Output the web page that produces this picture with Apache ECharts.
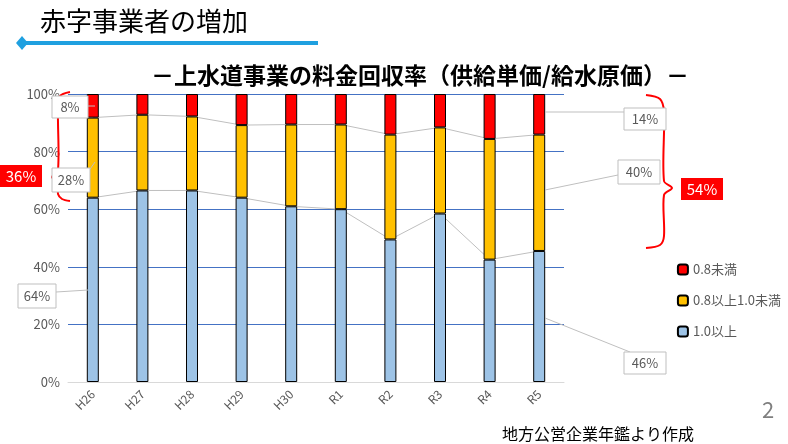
<!DOCTYPE html>
<html>
<head>
<meta charset="utf-8">
<script src="https://cdn.jsdelivr.net/npm/echarts@6/dist/echarts.min.js"></script>
<style>html,body{margin:0;padding:0;background:#fff}#c{width:788px;height:444px}</style>
</head>
<body>
<div id="c"></div>
<script>
"use strict";

var categories = ["H26", "H27", "H28", "H29", "H30", "R1", "R2", "R3", "R4", "R5"];
var over10 = [64, 66.5, 66.5, 64, 61, 60, 49.5, 58.5, 42.5, 45.5];
var mid = [27.8, 26.3, 25.7, 25.2, 28.4, 29.4, 36.4, 29.9, 41.9, 40.4];
var under08 = [8.2, 7.2, 7.8, 10.8, 10.6, 10.6, 14.1, 11.6, 15.6, 14.1];
var yTicks = [0, 20, 40, 60, 80, 100];

var top1 = over10.slice();
var top2 = over10.map(function (v, i) { return v + mid[i]; });

var chart = echarts.init(document.getElementById("c"));
var font = "'Noto Sans CJK JP', sans-serif";

function callout(x, y, w, h, text) {
  return [
    { type: "rect", shape: { x: x, y: y, width: w, height: h },
      style: { fill: "#fff", stroke: "#bfbfbf", lineWidth: 1 }, z: 100 },
    { type: "text", x: x + w / 2, y: y + h / 2, z: 101,
      style: { text: text, fill: "#595959", font: "13px " + font, textAlign: "center", textVerticalAlign: "middle" } }
  ];
}
function redBox(x, y, text) {
  return [
    { type: "rect", shape: { x: x, y: y, width: 42, height: 22 }, style: { fill: "#ff0000" }, z: 100 },
    { type: "text", x: x + 21, y: y + 11, z: 101,
      style: { text: text, fill: "#fff", font: "15px " + font, textAlign: "center", textVerticalAlign: "middle" } }
  ];
}
function link(x1, y1, x2, y2) {
  return { type: "line", z: 99, shape: { x1: x1, y1: y1, x2: x2, y2: y2 }, style: { stroke: "#bfbfbf", lineWidth: 1 } };
}

var graphics = [
  { type: "text", x: 40, y: 8, style: { text: "赤字事業者の増加", fill: "#000", font: "26px " + font } },
  { type: "line", shape: { x1: 22, y1: 43, x2: 318, y2: 43 }, style: { stroke: "#1fa0e0", lineWidth: 4 } },
  { type: "polygon", shape: { points: [[22, 36], [28, 43], [22, 50], [16, 43]] }, style: { fill: "#1fa0e0" } },
  { type: "text", x: 420, y: 75, style: { text: "－上水道事業の料金回収率（供給単価/給水原価）－", fill: "#000",
      font: "bold 23px " + font, textAlign: "center", textVerticalAlign: "middle" } },
  { type: "text", x: 598, y: 434, style: { text: "地方公営企業年鑑より作成", fill: "#000", font: "16px " + font, textAlign: "center", textVerticalAlign: "middle" } },
  { type: "text", x: 768, y: 410, style: { text: "2", fill: "#7f7f7f", font: "22px " + font, textAlign: "center", textVerticalAlign: "middle" } },
  { type: "polyline", z: 99, shape: { smooth: 0.3, points: [[70, 92], [60, 96], [58, 110], [58, 170], [52, 177], [58, 184], [58, 194], [62, 199], [70, 201]] },
    style: { fill: "none", stroke: "#ff0000", lineWidth: 2 } },
  { type: "polyline", z: 99, shape: { smooth: 0.3, points: [[646, 95], [660, 99], [664, 112], [664, 181], [672, 188], [664, 195], [664, 236], [660, 245], [646, 248]] },
    style: { fill: "none", stroke: "#ff0000", lineWidth: 2 } },
  link(88, 106, 95, 106),
  link(88, 172, 95, 162),
  link(56, 292, 88, 290),
  link(624, 112, 545, 112),
  link(618, 175, 545, 190),
  link(630, 352, 545, 318)
]
  .concat(callout(52, 96, 36, 22, "8%"))
  .concat(callout(52, 168, 38, 24, "28%"))
  .concat(callout(18, 284, 38, 24, "64%"))
  .concat(callout(624, 108, 42, 22, "14%"))
  .concat(callout(618, 160, 42, 24, "40%"))
  .concat(callout(624, 352, 42, 22, "46%"))
  .concat(redBox(0, 165, "36%"))
  .concat(redBox(681, 178, "54%"));

chart.setOption({
  animation: false,
  textStyle: { fontFamily: font },
  grid: { left: 68, right: 224, top: 94, bottom: 62 },
  legend: {
    orient: "vertical", right: 2, top: 258, itemGap: 18, itemWidth: 10, itemHeight: 10,
    textStyle: { color: "#595959", fontSize: 13 },
    data: ["0.8未満", "0.8以上1.0未満", "1.0以上"]
  },
  xAxis: {
    type: "category", data: categories,
    axisLine: { lineStyle: { color: "#d9d9d9" } }, axisTick: { show: false },
    axisLabel: { color: "#595959", fontSize: 12, rotate: 45, margin: 10 }
  },
  yAxis: {
    type: "value", min: 0, max: 100, interval: 20,
    axisLabel: { color: "#595959", fontSize: 13, formatter: "{value}%" },
    splitLine: { lineStyle: { color: "#4472c4", width: 1 } },
    axisLine: { show: false }, axisTick: { show: false }
  },
  series: [
    { name: "1.0以上", type: "bar", stack: "a", data: over10, barWidth: 12,
      itemStyle: { color: "#9dc3e6", borderColor: "#000", borderWidth: 1 } },
    { name: "0.8以上1.0未満", type: "bar", stack: "a", data: mid,
      itemStyle: { color: "#ffc000", borderColor: "#000", borderWidth: 1 } },
    { name: "0.8未満", type: "bar", stack: "a", data: under08,
      itemStyle: { color: "#ff0000", borderColor: "#000", borderWidth: 1 } },
    { type: "line", data: top1, symbol: "none", z: 1, silent: true, lineStyle: { color: "#bfbfbf", width: 1 } },
    { type: "line", data: top2, symbol: "none", z: 1, silent: true, lineStyle: { color: "#bfbfbf", width: 1 } }
  ],
  graphic: graphics
});
</script>
</body>
</html>
